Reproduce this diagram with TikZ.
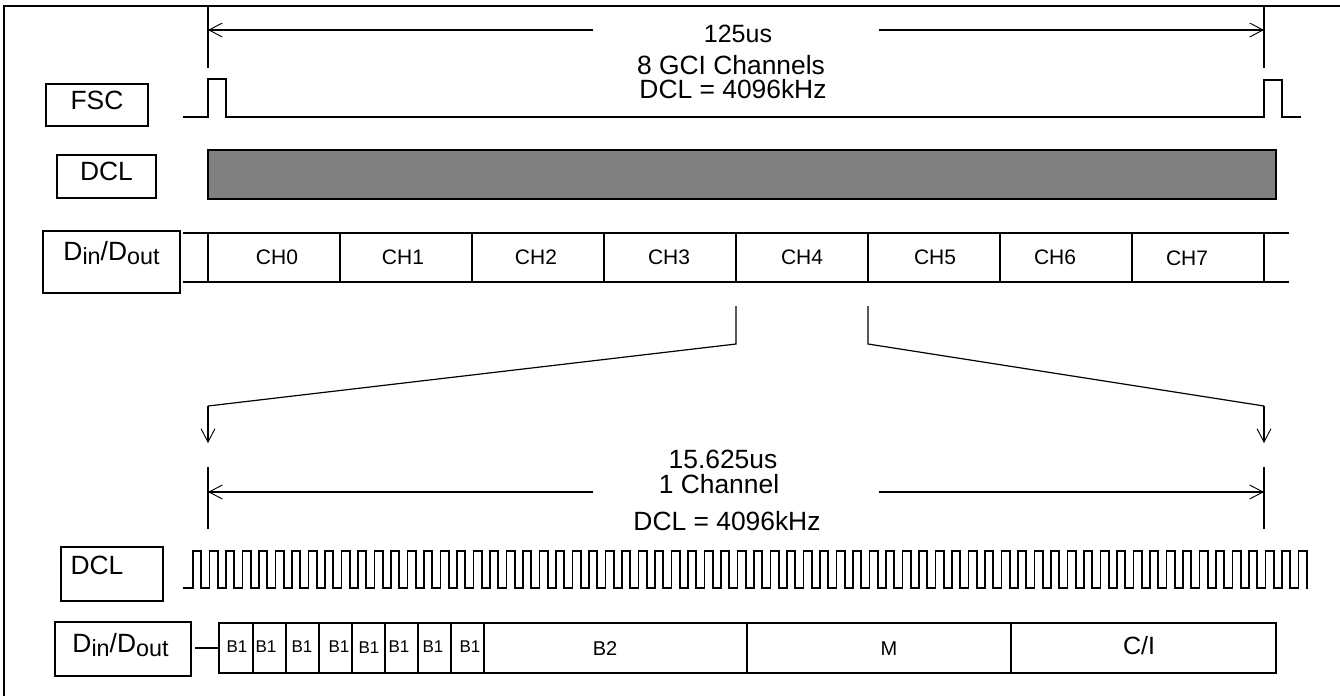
\documentclass[tikz,border=0pt]{standalone}
\usepackage{fontspec}
\setmainfont{Liberation Sans}
\usetikzlibrary{arrows.meta}
\definecolor{dclgray}{HTML}{808080}
\newcommand{\subtxt}[1]{\raisebox{-0.28ex}{\fontsize{17.5}{18}\selectfont #1}}
\tikzset{
    wire/.style={line width=1.5pt},
    thinwire/.style={line width=0.9pt},
    barb/.style={-{Straight Barb[length=10pt,width=10.5pt,line width=0.7pt]}},
    sigbox/.style={draw, line width=1.5pt, inner sep=0pt, text height=14.25pt, font=\fontsize{19.8}{20}\selectfont},
    lab/.style={anchor=base, inner sep=0pt, font=\fontsize{19.8}{20}\selectfont},
    chlab/.style={anchor=base, inner sep=0pt, font=\fontsize{15.75}{16}\selectfont},
    bitlab/.style={anchor=base, inner sep=0pt, font=\fontsize{12.75}{13}\selectfont}
}

\begin{document}
\begin{tikzpicture}[x=0.75pt, y=-0.75pt]
    \useasboundingbox (0,0) rectangle (1340,696);
    \draw[wire] (4,696) -- (4,5.7) -- (1340,5.7);

    % signal names
    \node[sigbox, minimum width=76.5pt, minimum height=31.5pt, text depth=8.25pt] (fsc) at (97,105) {FSC};
    \node[sigbox, minimum width=74.25pt, minimum height=32.25pt, text depth=9pt] (dcl) at (106.5,176.5) {DCL};
    \node[sigbox, minimum width=102.75pt, minimum height=46.5pt, text depth=16.5pt] (dio) at (111.5,262) {D\subtxt{in}/D\subtxt{out}};
    \node[sigbox, minimum width=76.5pt, minimum height=40.5pt, text depth=14.25pt] (dclz) at (112,574) {\kern-22.5pt DCL};
    \node[sigbox, minimum width=102pt, minimum height=40.5pt, text depth=9pt] (dioz) at (123,649) {\kern-3.75pt D\subtxt{in}/D\subtxt{out}};

    % top span
    \coordinate (tl) at (208,5.7);
    \coordinate (tlb) at (208,68);
    \coordinate (tr) at (1264,5.7);
    \coordinate (trb) at (1264,68);
    \coordinate (al) at (208,30);
    \coordinate (ar) at (1264,30);
    \coordinate (gl) at (593,30);
    \coordinate (gr) at (879,30);
    \draw[wire] (tl) -- (tlb);
    \draw[wire] (tr) -- (trb);
    \draw[wire, barb] (gl) -- (al);
    \draw[wire, barb] (gr) -- (ar);
    \node[lab, font=\fontsize{18.75}{19}\selectfont] (period) at (738,42) {125us};
    \node[lab] (chans) at (731,74) {8 GCI Channels};
    \node[lab] (rate) at (733,98) {DCL = 4096kHz};

    % frame sync and clock bar
    \draw[wire] (183,117) -- (208,117) -- (208,79) -- (226,79) -- (226,117) -- (1264,117) -- (1264,79.5) -- (1282,79.5) -- (1282,117) -- (1301,117);
    \draw[wire, fill=dclgray] (208,150) rectangle (1276,199);

    % eight channels
    \draw[wire] (183,233) -- (1289,233);
    \draw[wire] (183,282) -- (1289,282);
    \foreach \x in {208,340,472,604,736,868,1000,1132,1264}
        \draw[wire] (\x,233) -- (\x,282);
    \foreach \x/\n/\b in {277/0/264,403/1/264,536/2/264,669/3/264,802/4/264,935/5/264,1055/6/264,1187/7/265}
        \node[chlab] (ch\n) at (\x,\b) {CH\n};

    % zoom brackets
    \coordinate (sl) at (736,306);
    \coordinate (kl) at (736,344);
    \coordinate (ml) at (208,406);
    \coordinate (el) at (208,443);
    \coordinate (sr) at (868,306);
    \coordinate (kr) at (868,344);
    \coordinate (mr) at (1264,406);
    \coordinate (er) at (1264,443);
    \draw[thinwire] (sl) -- (kl) -- (ml);
    \draw[wire, barb] (ml) -- (el);
    \draw[thinwire] (sr) -- (kr) -- (mr);
    \draw[wire, barb] (mr) -- (er);

    % lower span
    \coordinate (zl) at (208,467);
    \coordinate (zlb) at (208,529);
    \coordinate (zr) at (1264,467);
    \coordinate (zrb) at (1264,529);
    \coordinate (bl) at (208,492);
    \coordinate (br) at (1264,492);
    \coordinate (hl) at (593,492);
    \coordinate (hr) at (879,492);
    \draw[wire] (zl) -- (zlb);
    \draw[wire] (zr) -- (zrb);
    \draw[wire, barb] (hl) -- (bl);
    \draw[wire, barb] (hr) -- (br);
    \node[lab] (slot) at (723,468) {15.625us};
    \node[lab] (onech) at (719,493) {1 Channel};
    \node[lab] (ratez) at (727,530.5) {DCL = 4096kHz};

    % clock
    \draw[line width=1.2pt] (183,588) -- (193,588);
    \foreach \k in {0,...,67}
        \draw[line width=1.2pt, line cap=rect] ({193+16.5*\k},588) -- ({193+16.5*\k},551) -- ({201.25+16.5*\k},551) -- ({201.25+16.5*\k},588);
    \foreach \k in {0,...,66}
        \draw[line width=1.2pt, line cap=rect] ({201.25+16.5*\k},588) -- ({209.5+16.5*\k},588);

    % one channel
    \coordinate (sa) at (195,648);
    \coordinate (sb) at (219,648);
    \draw[wire] (sa) -- (sb);
    \draw[wire] (219,623) rectangle (1276,673);
    \foreach \x in {253,286,319,352,385,418,451,484,747,1011}
        \draw[wire] (\x,623) -- (\x,673);
    \foreach \x/\i/\b in {237/0/652,266/1/652,302/2/652,339/3/652,369/4/653,399/5/652,433/6/652,470/7/652}
        \node[bitlab] (bit\i) at (\x,\b) {B1};
    \node[lab, font=\fontsize{15}{15}\selectfont] (btwo) at (605,655) {B2};
    \node[lab, font=\fontsize{15}{15}\selectfont] (mon) at (889,655) {M};
    \node[lab, font=\fontsize{18.75}{19}\selectfont] (ci) at (1139,654) {C/I};
\end{tikzpicture}
\end{document}
